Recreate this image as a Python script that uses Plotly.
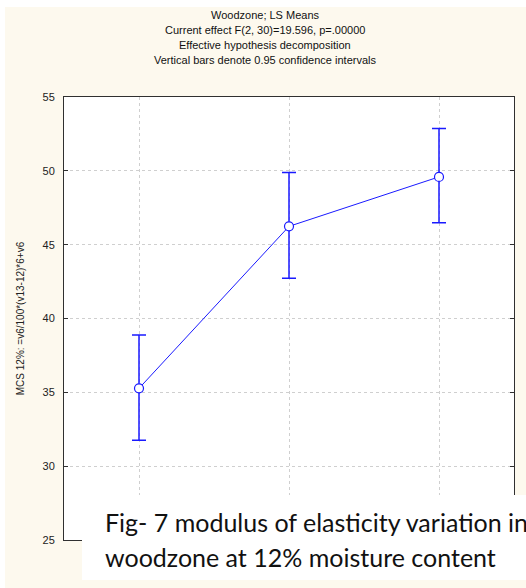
import plotly.graph_objects as go

categories = ["Inner", "Middle", "Outer"]
means = [35.27, 46.24, 49.59]
upper = [38.88, 49.88, 52.86]
lower = [31.75, 42.72, 46.49]
y_ticks = [25, 30, 35, 40, 45, 50, 55]

title_lines = [
    "Woodzone; LS Means",
    "Current effect F(2, 30)=19.596, p=.00000",
    "Effective hypothesis decomposition",
    "Vertical bars denote 0.95 confidence intervals",
]
y_title = "MCS 12%: =v6/100*(v13-12)*6+v6"
caption = ["Fig- 7 modulus of elasticity variation in",
           "woodzone at 12% moisture content"]

W, H = 526, 588
L, R, T, B = 64, 12, 97, 48
pw, ph = W - L - R, H - T - B

def px2x(px):
    return (px - L) / pw

def py2y(py):
    return (H - B - py) / ph

blue = "#1a1aff"
fig = go.Figure()
fig.add_trace(go.Scatter(
    x=categories, y=means, mode="lines+markers",
    line=dict(color=blue, width=1),
    marker=dict(symbol="circle", size=9, color="white", line=dict(color=blue, width=1.2)),
    error_y=dict(type="data", symmetric=False,
                 array=[u - m for u, m in zip(upper, means)],
                 arrayminus=[m - l for m, l in zip(means, lower)],
                 color=blue, thickness=1.5, width=7),
    showlegend=False,
))

axis_font = dict(family="Liberation Sans, Arial", size=11, color="#222")
fig.update_layout(
    width=W, height=H,
    margin=dict(l=L, r=R, t=T, b=B, pad=0),
    paper_bgcolor="#fdf9ee",
    plot_bgcolor="white",
    xaxis=dict(type="category", categoryorder="array", categoryarray=categories,
               range=[-0.5, 2.5], showticklabels=False,
               showgrid=True, gridcolor="#cfcfcf", griddash="dot", gridwidth=1,
               showline=True, linecolor="#303030", linewidth=1, mirror=True,
               ticks="", zeroline=False),
    yaxis=dict(range=[25, 55], tickvals=y_ticks,
               showgrid=True, gridcolor="#cfcfcf", griddash="dot", gridwidth=1,
               showline=True, linecolor="#303030", linewidth=1, mirror="ticks",
               ticks="inside", ticklen=4, tickcolor="#303030",
               ticklabelstandoff=6, zeroline=False, tickfont=axis_font,
               title=dict(text=y_title, font=dict(family="Liberation Sans, Arial", size=10, color="#222"),
                          standoff=16)),
)

# white strips at top and left edge
fig.add_shape(type="rect", xref="paper", yref="paper", layer="below",
              x0=px2x(0), x1=px2x(W), y0=py2y(7), y1=py2y(0),
              fillcolor="white", line=dict(width=0))
fig.add_shape(type="rect", xref="paper", yref="paper", layer="below",
              x0=px2x(0), x1=px2x(5), y0=py2y(H), y1=py2y(0),
              fillcolor="white", line=dict(width=0))
# caption box
fig.add_shape(type="rect", xref="paper", yref="paper", layer="above",
              x0=px2x(82), x1=px2x(W + 2), y0=py2y(580), y1=py2y(495),
              fillcolor="white", line=dict(width=0))

title_y = [15, 30, 45, 60]
for line, yy in zip(title_lines, title_y):
    fig.add_annotation(text=line, xref="paper", yref="paper", x=px2x(265), y=py2y(yy),
                       xanchor="center", yanchor="middle", showarrow=False,
                       font=dict(family="Liberation Sans, Arial", size=11, color="#111"))

for line, yy in zip(caption, [522, 557]):
    fig.add_annotation(text=line, xref="paper", yref="paper", x=px2x(103), y=py2y(yy),
                       xanchor="left", yanchor="middle", showarrow=False,
                       font=dict(family="Lato", size=25, color="#111"))

fig.write_html("out.html")
